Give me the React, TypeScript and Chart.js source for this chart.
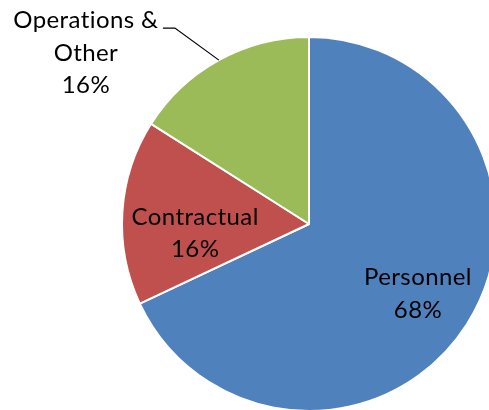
import React, { useEffect, useRef } from "react";
import { Chart, registerables } from "chart.js";

Chart.register(...registerables);

const categories = ["Personnel", "Contractual", "Operations & Other"];
const values = [68, 16, 16];
const labelNames = [["Personnel"], ["Contractual"], ["Operations &", "Other"]];
const colors = ["#4F81BD", "#C0504D", "#9BBB59"];

const FONT = "24px Lato, 'Noto Sans', sans-serif";
const PITCH = 32.5;
const CAP = 16.8;

const labelPlugin = {
  id: "pieLabels",
  afterDatasetsDraw(chart: any) {
    const ctx = chart.ctx as CanvasRenderingContext2D;
    const meta = chart.getDatasetMeta(0);
    const total = values.reduce((a, b) => a + b, 0);
    ctx.save();
    ctx.font = FONT;
    (ctx as any).letterSpacing = "0.4px";
    ctx.fillStyle = "#000";
    ctx.textAlign = "center";
    ctx.textBaseline = "alphabetic";
    meta.data.forEach((arc: any, i: number) => {
      const { x, y, startAngle, endAngle, outerRadius } = arc.getProps(
        ["x", "y", "startAngle", "endAngle", "outerRadius"],
        true
      );
      const mid = (startAngle + endAngle) / 2;
      const lines = [...labelNames[i], `${Math.round((values[i] / total) * 100)}%`];
      if (i === 2) {
        // outside label with leader line
        const ex = x + Math.cos(mid) * outerRadius;
        const ey = y + Math.sin(mid) * outerRadius;
        const bx = ex - 44;
        const by = ey - 32;
        ctx.strokeStyle = "#000";
        ctx.lineWidth = 1.2;
        ctx.beginPath();
        ctx.moveTo(ex, ey);
        ctx.lineTo(bx, by);
        ctx.lineTo(bx - 12, by);
        ctx.stroke();
        const tx = bx - 89;
        lines.forEach((t, k) => ctx.fillText(t, tx, by + k * PITCH));
      } else {
        const frac = i === 0 ? 0.69 : 0.61;
        const dy = i === 0 ? 0 : 16;
        const cx = x + Math.cos(mid) * outerRadius * frac;
        const cy = y + Math.sin(mid) * outerRadius * frac + dy;
        const n = lines.length;
        lines.forEach((t, k) =>
          ctx.fillText(t, cx, cy + (k - (n - 1) / 2) * PITCH + CAP / 2)
        );
      }
    });
    ctx.restore();
  },
};

export default function App() {
  const ref = useRef<HTMLCanvasElement>(null);
  useEffect(() => {
    if (!ref.current) return;
    const chart = new Chart(ref.current, {
      type: "pie",
      data: {
        labels: categories,
        datasets: [
          {
            data: values,
            backgroundColor: colors,
            borderColor: "#FFFFFF",
            borderWidth: 2,
          },
        ],
      },
      options: {
        responsive: false,
        animation: false,
        radius: 187,
        layout: { padding: 0 },
        plugins: {
          legend: { display: false },
          tooltip: { enabled: false },
        },
      },
      plugins: [labelPlugin],
    });
    return () => chart.destroy();
  }, []);
  return (
    <div
      style={{
        position: "fixed",
        left: 0,
        top: 0,
        width: 489,
        height: 410,
        overflow: "hidden",
        background: "#fff",
      }}
    >
      <canvas
        ref={ref}
        width={618}
        height={448}
        style={{ position: "absolute", left: 0, top: 0, width: 618, height: 448 }}
      />
    </div>
  );
}
